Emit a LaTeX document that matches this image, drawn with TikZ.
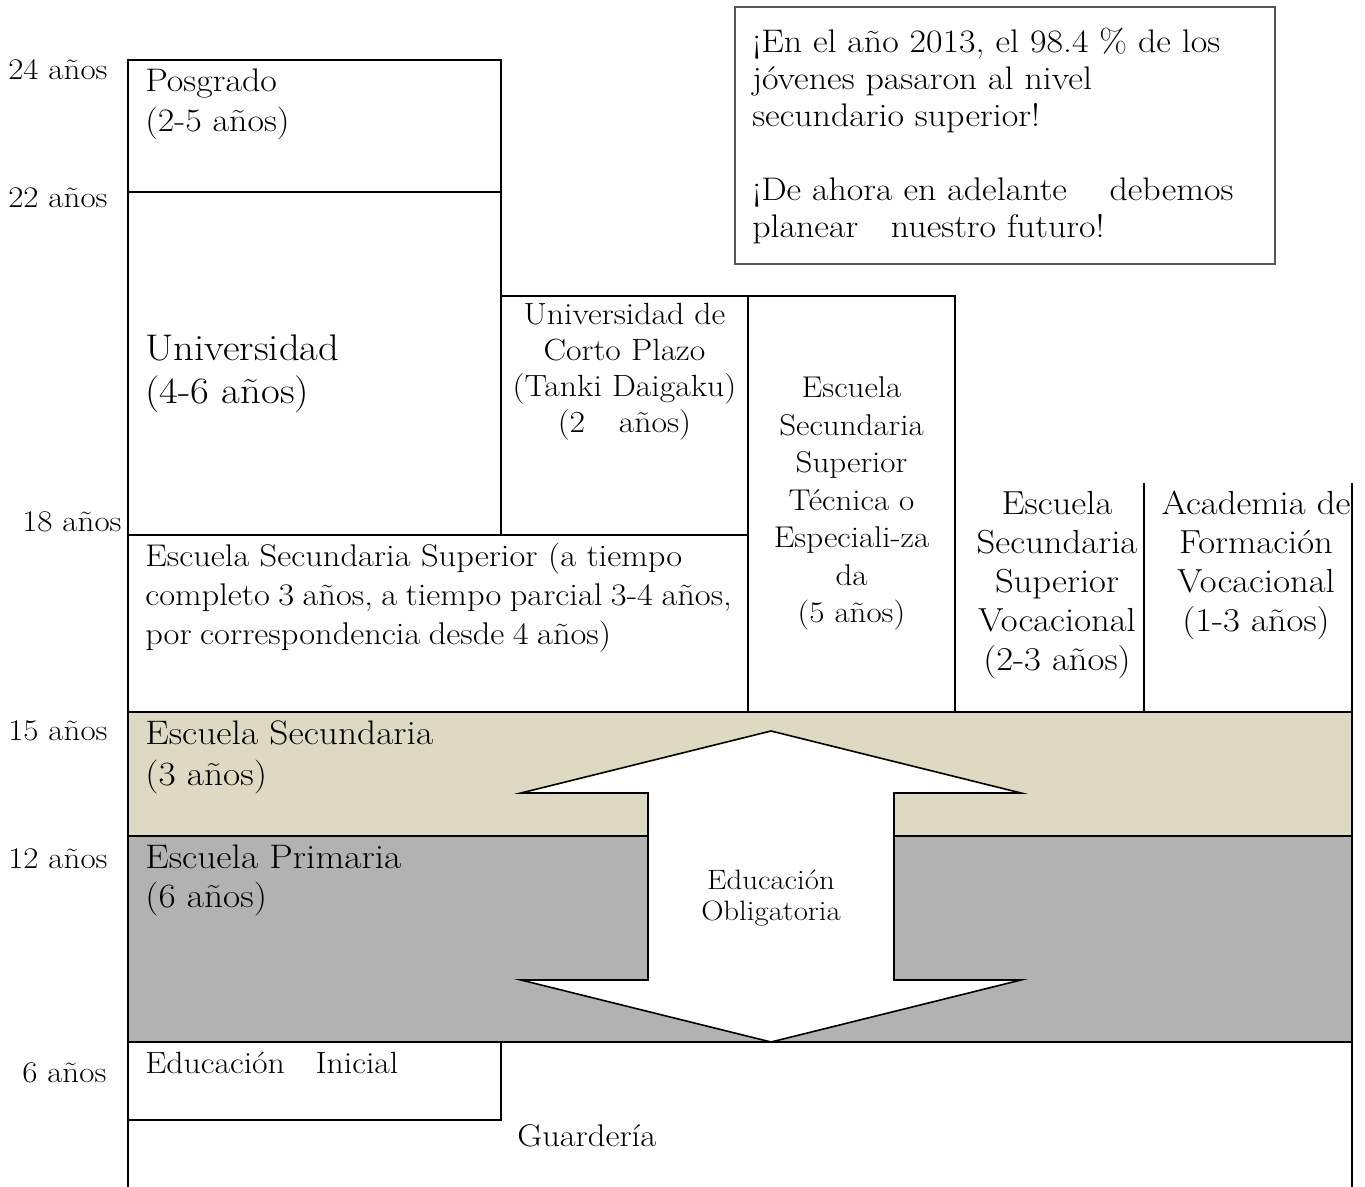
\documentclass[tikz,border=0pt]{standalone}
\usepackage{fontspec}
\setmainfont{Latin Modern Roman}[FakeStretch=1.1]
\definecolor{bandbeige}{HTML}{DDD9C3}
\definecolor{bandgray}{HTML}{B2B2B2}
\definecolor{noteedge}{HTML}{555555}
\newcommand{\fsz}[2]{\fontsize{#1pt}{#2pt}\selectfont}
\newcommand{\nsp}{\hspace{0.27em}}
\begin{document}
\begin{tikzpicture}[x=0.75pt,y=-0.75pt,
  frame/.style={draw=black,line width=1.5pt},
  agelbl/.style={inner sep=0pt,anchor=base west,font=\fsz{22.5}{26}},
  ltext/.style={inner sep=0pt,anchor=base west,align=left,text width=560pt},
  ctext/.style={inner sep=0pt,anchor=base,align=center,text width=#1},
  arrowshape/.style={fill=white,draw=black,line width=1.2pt,line join=miter},
  notebox/.style={draw=noteedge,line width=0.8pt}
]
\useasboundingbox (0,0) rectangle (1365,1187);

% coloured bands
\fill[bandbeige] (128,712) rectangle (1352,836);
\fill[bandgray] (128,836) rectangle (1352,1042);

% frames
\draw[frame] (128,1187) -- (128,60) -- (501,60) -- (501,535);
\draw[frame] (128,192) -- (501,192);
\draw[frame] (501,296) -- (955,296) -- (955,712);
\draw[frame] (748,296) -- (748,712);
\draw[frame] (128,535) -- (748,535);
\draw[frame] (1144,483) -- (1144,712);
\draw[frame] (1352,483) -- (1352,1187);
\draw[frame] (128,712) -- (1352,712);
\draw[frame] (128,836) -- (1352,836);
\draw[frame] (128,1042) -- (1352,1042);
\draw[frame] (501,1042) -- (501,1120) -- (128,1120);

% note box
\draw[notebox] (735,7) rectangle (1275,264);

% double arrow
\draw[arrowshape] (771,731) -- (1021,793) -- (894,793) -- (894,980) -- (1021,980)
  -- (771,1042) -- (521,980) -- (648,980) -- (648,793) -- (521,793) -- cycle;

% age labels
\node[agelbl] (a24) at (8,80) {24 años};
\node[agelbl] (a22) at (8,208) {22 años};
\node[agelbl] (a18) at (22,532) {18 años};
\node[agelbl] (a15) at (8,740) {15 años};
\node[agelbl] (a12) at (8,868) {12 años};
\node[agelbl] (a6) at (22,1082) {6 años};

% box texts
\node[ltext,font=\fsz{24.5}{30}] (posg) at (145,92) {Posgrado\\(2-5 años)};
\node[ltext,font=\fsz{27.8}{32.25}] (univ) at (145,361) {Universidad\\(4-6 años)};
\node[ctext=200pt,font=\fsz{23}{27}] (corto) at (624.5,325)
  {Universidad de\\Corto Plazo\\(Tanki Daigaku)\\(2\hspace{1.1em}años)};
\node[ctext=200pt,font=\fsz{22.5}{28.1}] (tecn) at (851.5,398)
  {Escuela\\Secundaria\\Superior\\Técnica o\\Especiali-za\\da\\(5 años)};
\node[ctext=200pt,font=\fsz{25}{29.25}] (voc) at (1057,515)
  {Escuela\\Secundaria\\Superior\\Vocacional\\(2-3 años)};
\node[ctext=200pt,font=\fsz{25}{29.25}] (acad) at (1256,515)
  {Academia de\\Formación\\Vocacional\\(1-3 años)};
\node[ltext,font=\fsz{23.5}{29.25}] (ess) at (145,567)
  {Escuela Secundaria Superior (a tiempo\\completo\nsp 3\nsp años,\nsp a\nsp tiempo\nsp parcial\nsp 3-4\nsp años,\\por\nsp correspondencia\nsp desde\nsp 4\nsp años)};
\node[ltext,font=\fsz{25.5}{31.5}] (secu) at (145,744) {Escuela Secundaria\\(3 años)};
\node[ltext,font=\fsz{25.5}{29.25}] (prim) at (145,868) {Escuela Primaria\\(6 años)};
\node[ltext,font=\fsz{23}{27}] (inic) at (145,1073) {Educación\quad Inicial};
\node[ltext,font=\fsz{23.5}{27}] (guard) at (517,1146) {Guardería};
\node[ctext=200pt,font=\fsz{21}{23.25}] (oblig) at (771,889) {Educación\\Obligatoria};
\node[ltext,font=\fsz{24.5}{27.75}] (note) at (752,53)
  {¡En el año 2013, el 98.4 \% de los\\jóvenes pasaron al nivel\\secundario superior!\\[27.75pt]¡De ahora en adelante\hspace{1.3em}debemos\\planear\hspace{1em}nuestro futuro!};
\end{tikzpicture}
\end{document}
